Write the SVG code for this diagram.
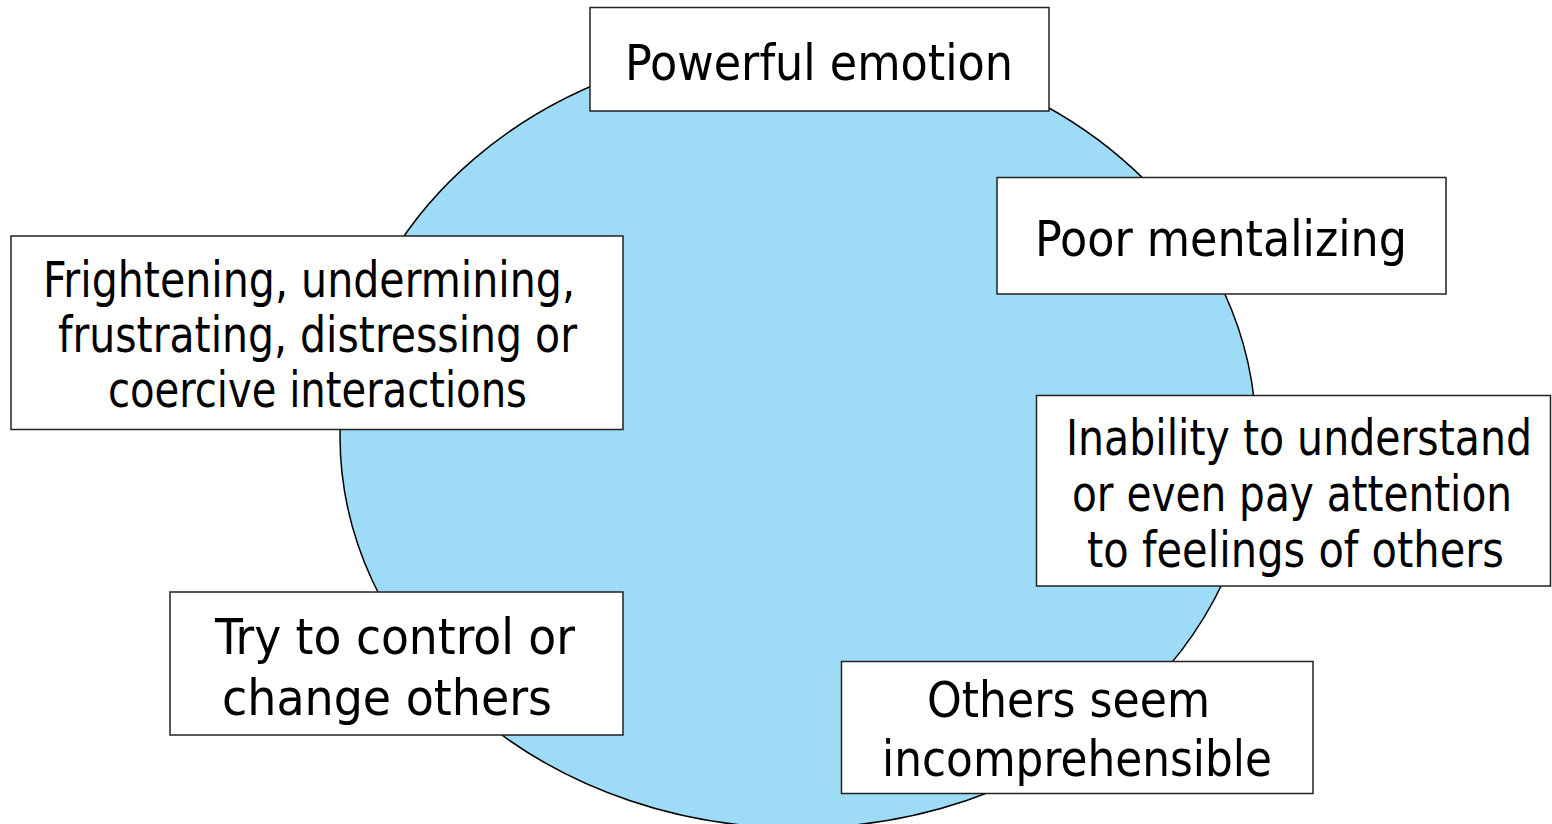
<svg xmlns="http://www.w3.org/2000/svg" width="1552" height="824" viewBox="0 0 1552 824">
<style>
.box{fill:#ffffff;stroke:#222222;stroke-width:1.5}
.t{font-family:"DejaVu Sans Condensed","DejaVu Sans",sans-serif;font-size:49px;fill:#000000;text-anchor:middle}
</style>
<rect width="1552" height="824" fill="#ffffff"/>
<g id="cycle">
<ellipse cx="798" cy="436" rx="458" ry="392" fill="#9DDBF6" stroke="#000000" stroke-width="1.5"/>
</g>
<g id="connectors"></g>
<g id="n1">
<rect class="box" x="590" y="7.5" width="459" height="103.5"/>
<text class="t" x="819" y="80" textLength="388" lengthAdjust="spacingAndGlyphs">Powerful emotion</text>
</g>
<g id="n2">
<rect class="box" x="997" y="177.5" width="449" height="116.5"/>
<text class="t" x="1221" y="256" textLength="372" lengthAdjust="spacingAndGlyphs">Poor mentalizing</text>
</g>
<g id="n3">
<rect class="box" x="1036.5" y="395.5" width="514" height="190.5"/>
<text class="t" x="1299" y="455" textLength="466" lengthAdjust="spacingAndGlyphs">Inability to understand</text>
<text class="t" x="1292" y="511" textLength="440" lengthAdjust="spacingAndGlyphs">or even pay attention</text>
<text class="t" x="1295.5" y="567" textLength="417" lengthAdjust="spacingAndGlyphs">to feelings of others</text>
</g>
<g id="n4">
<rect class="box" x="841.5" y="661.5" width="471.5" height="132"/>
<text class="t" x="1068.5" y="717" textLength="283" lengthAdjust="spacingAndGlyphs">Others seem</text>
<text class="t" x="1077" y="776" textLength="390" lengthAdjust="spacingAndGlyphs">incomprehensible</text>
</g>
<g id="n5">
<rect class="box" x="170" y="592" width="453" height="143"/>
<text class="t" x="395" y="654" textLength="360" lengthAdjust="spacingAndGlyphs">Try to control or</text>
<text class="t" x="387" y="715" textLength="330" lengthAdjust="spacingAndGlyphs">change others</text>
</g>
<g id="n6">
<rect class="box" x="11" y="236" width="612" height="193.5"/>
<text class="t" x="309" y="297" textLength="532" lengthAdjust="spacingAndGlyphs">Frightening, undermining,</text>
<text class="t" x="317.5" y="352" textLength="519" lengthAdjust="spacingAndGlyphs">frustrating, distressing or</text>
<text class="t" x="317.5" y="407" textLength="419" lengthAdjust="spacingAndGlyphs">coercive interactions</text>
</g>
</svg>
